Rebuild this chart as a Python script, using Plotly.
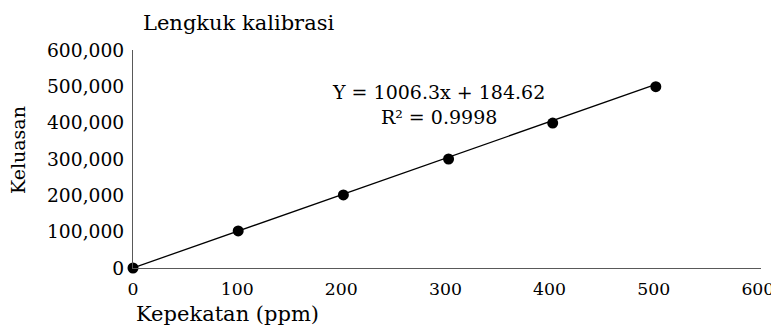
import plotly.graph_objects as go

concentration = [0, 101, 202, 303, 403, 502]
area = [0, 102000, 201000, 300000, 399000, 499000]
slope = 1006.3
intercept = 184.62
r_squared = 0.9998
x_ticks = [0, 100, 200, 300, 400, 500, 600]
y_ticks = [0, 100000, 200000, 300000, 400000, 500000, 600000]

FONT = "DejaVu Serif"
OFF = 8  # page body margin

L, R, T, B = 133 - OFF, 761 - OFF, 50 - OFF, 268 - OFF
W, H = 779 - OFF, 333 - 2 * OFF
PW, PH = R - L, B - T

fit_x = [concentration[0], concentration[-1]]
fit_y = [slope * v + intercept for v in fit_x]

fig = go.Figure()
fig.add_trace(go.Scatter(x=fit_x, y=fit_y, mode="lines",
                         line=dict(color="black", width=1.3), showlegend=False))
fig.add_trace(go.Scatter(x=concentration, y=area, mode="markers",
                         marker=dict(color="black", size=11), showlegend=False,
                         cliponaxis=False))

def px(x):
    return (x - OFF - L) / PW

def py(y):
    return (B - (y - OFF)) / PH

fig.update_layout(
    width=W, height=H,
    margin=dict(l=L, r=W - R, t=T, b=H - B, autoexpand=False),
    paper_bgcolor="white", plot_bgcolor="white",
    font=dict(family=FONT, size=18.7, color="black"),
    xaxis=dict(range=[0, 603], tickvals=x_ticks, showgrid=False, zeroline=False,
               automargin=False, tickfont=dict(size=17.3),
               showline=True, linecolor="#595959", linewidth=1,
               ticks="outside", ticklen=5, tickcolor="rgba(0,0,0,0)"),
    yaxis=dict(range=[0, 600000], tickvals=y_ticks, tickformat=",d", showgrid=False,
               automargin=False,
               zeroline=False, showline=True, linecolor="#595959", linewidth=1,
               ticks="outside", ticklen=4, tickcolor="rgba(0,0,0,0)"),
    annotations=[
        dict(text="Lengkuk kalibrasi", xref="paper", yref="paper", x=px(141), y=py(23),
             xanchor="left", yanchor="middle", showarrow=False,
             font=dict(size=21)),
        dict(text="Kepekatan (ppm)", xref="paper", yref="paper", x=px(134), y=py(314),
             xanchor="left", yanchor="middle", showarrow=False,
             font=dict(size=21)),
        dict(text="Keluasan", xref="paper", yref="paper", x=px(18), y=py(150),
             xanchor="center", yanchor="middle", textangle=-90, showarrow=False,
             font=dict(size=19)),
        dict(text=f"Y = {slope}x + {intercept}<br>R² = {r_squared}", xref="paper", yref="paper",
             x=px(438), y=py(104), xanchor="center", yanchor="middle",
             align="center", showarrow=False, font=dict(size=19)),
    ],
)

fig.write_html("out.html")
